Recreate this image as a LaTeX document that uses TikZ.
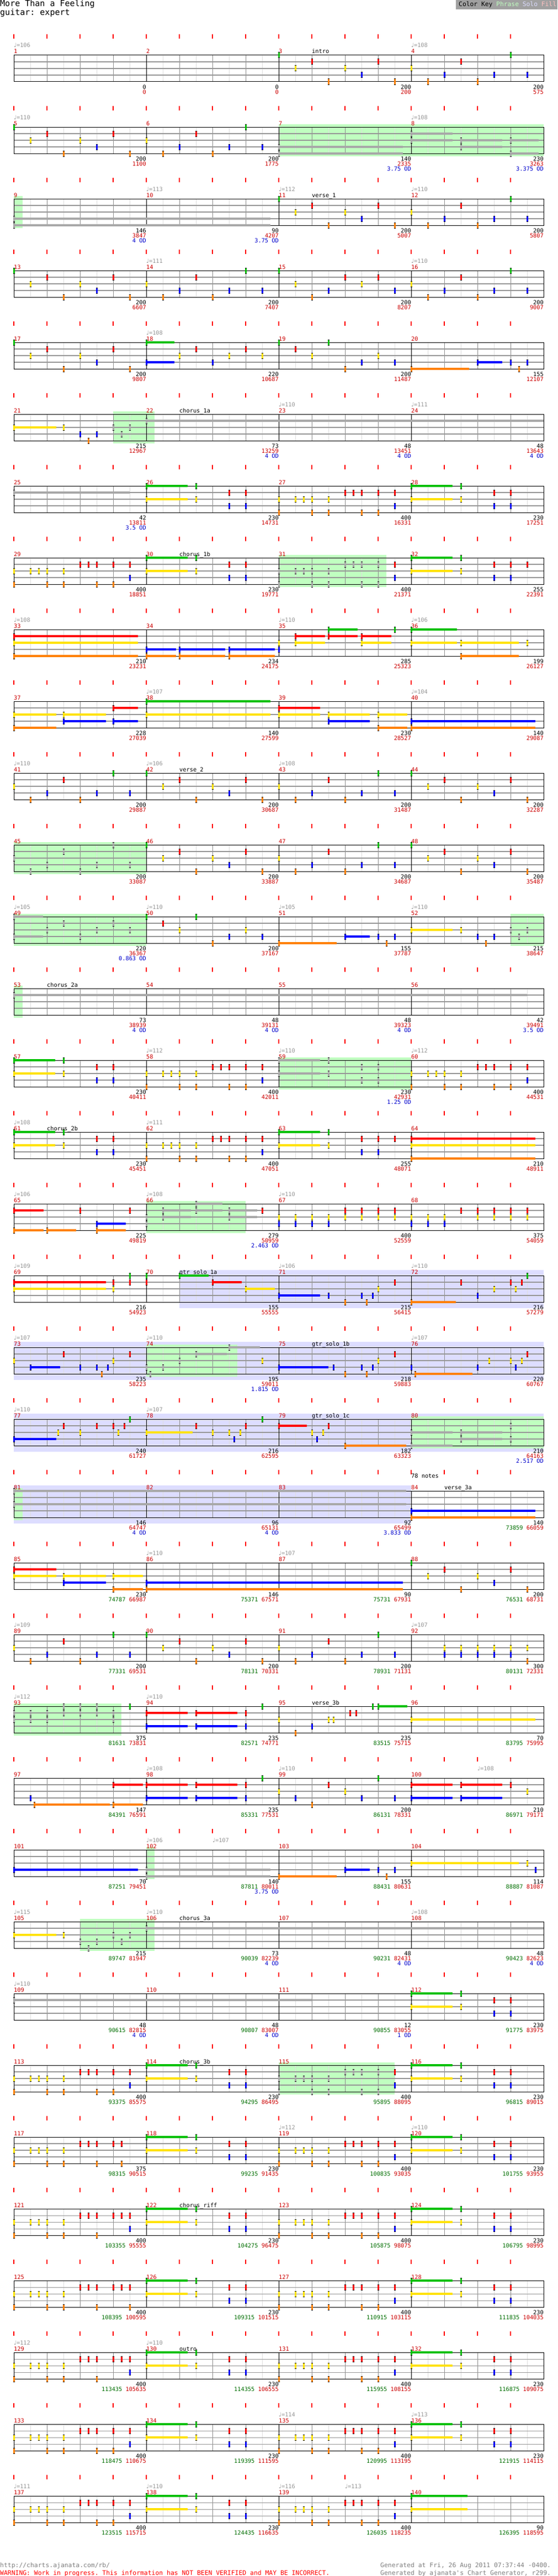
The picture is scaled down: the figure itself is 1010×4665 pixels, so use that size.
\documentclass[tikz,border=0pt]{standalone}
\usepackage{fontspec}
\setmonofont{DejaVu Sans Mono}
\newfontfamily\notefont{DejaVu Sans}

\definecolor{lane0}{RGB}{0,192,0}
\definecolor{lane1}{RGB}{255,0,0}
\definecolor{lane2}{RGB}{255,226,0}
\definecolor{lane3}{RGB}{0,0,255}
\definecolor{lane4}{RGB}{255,128,0}
\definecolor{spgray}{RGB}{168,168,168}
\definecolor{phrasebg}{RGB}{192,255,192}
\definecolor{solobg}{RGB}{221,221,255}
\definecolor{fillpink}{RGB}{255,192,192}
\definecolor{keybg}{RGB}{160,160,160}
\definecolor{barred}{RGB}{204,0,0}
\definecolor{scoregreen}{RGB}{0,110,0}
\definecolor{odblue}{RGB}{0,0,204}
\definecolor{tempogray}{RGB}{150,150,150}
\definecolor{stringgray}{RGB}{150,150,150}
\definecolor{beatgray}{RGB}{140,140,140}
\definecolor{eighthgray}{RGB}{222,222,222}

\newcommand\chartfont{\ttfamily\fontsize{10.3}{12}\selectfont}

\tikzset{
  beattick/.style={red,line width=1.5pt},
  eighthline/.style={eighthgray,line width=0.9pt},
  beatline/.style={beatgray,line width=0.9pt},
  stringline/.style={stringgray,line width=1.1pt},
  barline/.style={black,line width=1pt},
  chart/.style={font=\chartfont,inner sep=0pt},
  barnum/.style={chart,text=barred,anchor=base west},
  tempo/.style={chart,text=tempogray,anchor=base west},
  section/.style={chart,anchor=base west},
  tally/.style={chart,anchor=base east},
}

\def\riffA{0/0,1/2,2/1,3/4,4/2,5/3,6/1,7/4}
\def\riffB{0/2,1/4,2/3,3/1,4/4,5/3,6/0,7/3}
\def\riffC{0/0,1/2,2/4,3/3,4/1,5/2,6/1,7/3}
\def\riffD{3/0,3/2,5/1,5/3,6/1,6/3}
\def\riffE{0/2,0/4,1/2,1.5/2,2/2,2/4,3/2,3/4,4/1,4.5/1,5/1,5/4,6/1,6/4,7/1,7/3}
\def\riffF{0/2,0/4,1/2,1.5/2,2/2,2/4,3/2,3/4,4/1,4.5/1,5/1,5/4,6/1}

\newcommand\chartstaff[1]{%
  \foreach \k in {0,...,15} \draw[beattick] ({25+60*\k},62) -- ({25+60*\k},70);
  \foreach \k in {1,3,...,31} \draw[eighthline] ({25+30*\k},100) -- ({25+30*\k},148);
  \foreach \k in {2,4,6,10,12,14,18,20,22,26,28,30} \draw[beatline] ({25+30*\k},100) -- ({25+30*\k},148);
  \foreach \q in {1,2,3} \draw[stringline] (25,{100+12*\q}) -- (985,{100+12*\q});
  \foreach \k in {1,2,3} \draw[barline] ({25+240*\k},100) -- ({25+240*\k},148);
  \draw[barline] (25,100) rectangle (985,148);
  \foreach \k in {0,...,3} {\pgfmathtruncatemacro\barno{#1+\k}\node[barnum] at ({25+240*\k},97) {\barno};}}
\newcommand\fretnote[3][]{%
  \def\fc{#1}\ifx\fc\empty\def\fc{lane#3}\fi
  \fill[black] ({25+30*(#2)-1.5},{94.5+12*(#3)}) rectangle ++(3,11);
  \fill[fill=\fc] ({25+30*(#2)-1.5},{95.5+12*(#3)}) rectangle ++(3,9);}
\newcommand\sustain[4][]{%
  \def\fc{#1}\ifx\fc\empty\def\fc{lane#4}\fi
  \fill[fill=\fc] ({25+30*(#2)},{98.2+12*(#4)}) rectangle ({25+30*(#3)},{101.8+12*(#4)});
  \fretnote[#1]{#2}{#4}}
\newcommand\playriff[3][]{\foreach \p/\s in #3 {\fretnote[#1]{#2+\p}{\s}}}
\newcommand\fretlist[2][]{\foreach \p/\s in {#2} {\fretnote[#1]{\p}{\s}}}
\newcommand\holdriff[2][]{\sustain[#1]{#2}{#2+2.5}{0}\sustain[#1]{#2}{#2+2.5}{2}\playriff[#1]{#2}{\riffD}}
\newcommand\spphrase[2]{\fill[phrasebg] ({25+30*(#1)},95) rectangle ({25+30*(#2)},153);}
\newcommand\solozone[2]{\fill[solobg] ({25+30*(#1)},90) rectangle ({25+30*(#2)},159);}
\newcommand\tempomark[2]{\node[tempo] at ({25+30*(#1)},86) {{\notefont ♩}=#2};}
\newcommand\songpart[2]{\node[section] at ({25+30*(#1)},97) {#2};}
\newcommand\gsc[1]{\textcolor{scoregreen}{#1}}
\newcommand\measuretally[4]{%
  \node[tally] at ({265+240*(#1)},161) {#2};
  \node[tally,text=barred] at ({265+240*(#1)},170) {#3};
  \node[tally,text=odblue] at ({265+240*(#1)},179) {#4};}

\begin{document}
\begin{tikzpicture}[x=1pt,y=-1pt]
\useasboundingbox (0,0) rectangle (1010,4665);
\fill[white] (0,0) rectangle (1010,4665);
\node[anchor=base west,inner sep=0pt,font=\ttfamily\fontsize{15}{18}\selectfont] (title) at (0,12) {More Than a Feeling};
\node[anchor=base west,inner sep=0pt,font=\ttfamily\fontsize{15}{18}\selectfont] (part) at (0,28) {guitar: expert};
\fill[keybg] (826,0) rectangle (1010,17);
\node[anchor=base west,inner sep=0pt,font=\ttfamily\fontsize{11.3}{13}\selectfont] (key) at (831,12) {Color Key \textcolor{phrasebg}{Phrase} \textcolor{solobg}{Solo} \textcolor{fillpink}{Fill}};

\begin{scope}[shift={(0,0)}]
\chartstaff{1}
\tempomark{0}{106}\tempomark{24}{108}\songpart{18}{intro}
\playriff{16}{\riffA}\playriff{24}{\riffB}
\measuretally{0}{0}{0}{}\measuretally{1}{0}{0}{}\measuretally{2}{200}{200}{}\measuretally{3}{200}{575}{}
\end{scope}

\begin{scope}[shift={(0,130)}]
\spphrase{16}{32}
\chartstaff{5}
\tempomark{0}{110}\tempomark{24}{108}
\playriff{0}{\riffA}\playriff{8}{\riffB}
\foreach \s in {3,4} {\sustain[spgray]{16}{23.5}{\s}}
\foreach \s in {1,2} {\sustain[spgray]{24}{26.5}{\s}}
\foreach \s in {2,3} {\sustain[spgray]{27}{29.5}{\s}}
\foreach \s in {2,4} {\sustain[spgray]{30}{31.7}{\s}}
\measuretally{0}{200}{1100}{}\measuretally{1}{200}{1775}{}\measuretally{2}{140}{2335}{3.75 OD}\measuretally{3}{230}{3263}{3.375 OD}
\end{scope}

\begin{scope}[shift={(0,260)}]
\spphrase{0}{0.54}
\chartstaff{9}
\tempomark{8}{113}\tempomark{16}{112}\tempomark{24}{110}\songpart{18}{verse\_1}
\foreach \s in {3,4} {\sustain[spgray]{0}{15.5}{\s}}
\playriff{16}{\riffA}\playriff{24}{\riffB}
\measuretally{0}{146}{3847}{4 OD}\measuretally{1}{90}{4207}{3.75 OD}\measuretally{2}{200}{5007}{}\measuretally{3}{200}{5807}{}
\end{scope}

\begin{scope}[shift={(0,390)}]
\chartstaff{13}
\tempomark{8}{111}\tempomark{24}{110}
\playriff{0}{\riffA}\playriff{8}{\riffB}\playriff{16}{\riffC}\playriff{24}{\riffB}
\measuretally{0}{200}{6607}{}\measuretally{1}{200}{7407}{}\measuretally{2}{200}{8207}{}\measuretally{3}{200}{9007}{}
\end{scope}

\begin{scope}[shift={(0,520)}]
\chartstaff{17}
\tempomark{8}{108}
\playriff{0}{\riffA}
\foreach \s in {0,3} {\sustain{8}{9.7}{\s}}
\fretlist{10/2,11/1,12/3,13/2,14/1,15/2,16/0,17/1,18/2,19/0,20/4,21/3,22/2,23/3,30/3,30.5/4,31/3}
\sustain{24}{27.5}{4}\sustain{28}{29.5}{3}
\measuretally{0}{200}{9807}{}\measuretally{1}{220}{10687}{}\measuretally{2}{200}{11487}{}\measuretally{3}{155}{12107}{}
\end{scope}

\begin{scope}[shift={(0,650)}]
\spphrase{6}{8.5}
\chartstaff{21}
\tempomark{16}{110}\tempomark{24}{111}\songpart{10}{chorus\_1a}
\sustain{0}{2.55}{2}
\fretlist{3/2,4/3,4.5/4,5/3}
\fretlist[spgray]{6/2,6.5/3,7/2}
\sustain[spgray]{8}{32}{1}
\measuretally{0}{215}{12967}{}\measuretally{1}{73}{13259}{4 OD}\measuretally{2}{48}{13451}{4 OD}\measuretally{3}{48}{13643}{4 OD}
\end{scope}

\begin{scope}[shift={(0,780)}]
\chartstaff{25}
\sustain[spgray]{0}{7}{1}
\holdriff{8}\playriff{16}{\riffE}\holdriff{24}
\measuretally{0}{42}{13811}{3.5 OD}\measuretally{1}{230}{14731}{}\measuretally{2}{400}{16331}{}\measuretally{3}{230}{17251}{}
\end{scope}

\begin{scope}[shift={(0,910)}]
\spphrase{16}{22.5}
\chartstaff{29}
\songpart{10}{chorus\_1b}
\playriff{0}{\riffE}\holdriff{8}\playriff[spgray]{16}{\riffE}\fretlist{23/1,23/3}\holdriff{24}\fretlist{31/1}
\measuretally{0}{400}{18851}{}\measuretally{1}{230}{19771}{}\measuretally{2}{400}{21371}{}\measuretally{3}{255}{22391}{}
\end{scope}

\begin{scope}[shift={(0,1040)}]
\chartstaff{33}
\tempomark{0}{108}\tempomark{16}{110}\tempomark{24}{106}
\foreach \s in {1,2,4} {\sustain{0}{7.5}{\s}}
\foreach \s in {3,4} {\sustain{8}{9.8}{\s}\sustain{10}{12.75}{\s}\sustain{13}{15.75}{\s}}
\fretlist{16/2,16/3,23/0,31/2}
\foreach \s in {1,2} {\sustain{17}{18.8}{\s}\sustain{21}{22.8}{\s}}
\foreach \s in {0,1} {\sustain{19}{20.75}{\s}}
\foreach \s in {0,2} {\sustain{24}{26.75}{\s}}
\foreach \s in {2,4} {\sustain{27}{30.5}{\s}}
\measuretally{0}{210}{23231}{}\measuretally{1}{234}{24175}{}\measuretally{2}{285}{25323}{}\measuretally{3}{199}{26127}{}
\end{scope}

\begin{scope}[shift={(0,1170)}]
\chartstaff{37}
\tempomark{8}{107}\tempomark{24}{104}
\foreach \s in {2,4} {\sustain{0}{2.55}{\s}\sustain{22}{23.75}{\s}}
\foreach \s in {2,3} {\sustain{3}{5.55}{\s}\sustain{19}{21.5}{\s}}
\foreach \s in {1,3} {\sustain{6}{7.5}{\s}}
\foreach \s in {0,2} {\sustain{8}{15.5}{\s}}
\foreach \s in {1,2} {\sustain{16}{18.5}{\s}}
\foreach \s in {3,4} {\sustain{24}{31.5}{\s}}
\measuretally{0}{228}{27039}{}\measuretally{1}{140}{27599}{}\measuretally{2}{230}{28527}{}\measuretally{3}{140}{29087}{}
\end{scope}

\begin{scope}[shift={(0,1300)}]
\chartstaff{41}
\tempomark{0}{110}\tempomark{8}{106}\tempomark{16}{108}\songpart{10}{verse\_2}
\playriff{0}{\riffB}\playriff{8}{\riffA}\playriff{16}{\riffB}\playriff{24}{\riffA}
\measuretally{0}{200}{29887}{}\measuretally{1}{200}{30687}{}\measuretally{2}{200}{31487}{}\measuretally{3}{200}{32287}{}
\end{scope}

\begin{scope}[shift={(0,1430)}]
\spphrase{0}{8}
\chartstaff{45}
\playriff[spgray]{0}{\riffB}\playriff{8}{\riffA}\playriff{16}{\riffB}\playriff{24}{\riffA}
\measuretally{0}{200}{33087}{}\measuretally{1}{200}{33887}{}\measuretally{2}{200}{34687}{}\measuretally{3}{200}{35487}{}
\end{scope}

\begin{scope}[shift={(0,1560)}]
\spphrase{0}{8}\spphrase{30}{32}
\chartstaff{49}
\tempomark{0}{105}\tempomark{8}{110}\tempomark{16}{105}\tempomark{24}{110}
\foreach \s in {0,3} {\sustain[spgray]{0}{1.75}{\s}}
\fretlist[spgray]{2/2,3/1,4/3,5/2,6/1,7/2}
\fretlist{8/0,9/1,10/2,11/0,12/4,13/3,14/2,15/3}
\sustain{16}{19.5}{4}\sustain{20}{21.5}{3}\fretlist{22/3,22.5/4,23/3}
\sustain{24}{26.5}{2}\fretlist{27/2,28/3,28.5/4,29/3}
\fretlist[spgray]{30/2,30.5/3,31/2}
\measuretally{0}{220}{36367}{0.863 OD}\measuretally{1}{200}{37167}{}\measuretally{2}{155}{37787}{}\measuretally{3}{215}{38647}{}
\end{scope}

\begin{scope}[shift={(0,1690)}]
\spphrase{0}{0.54}
\chartstaff{53}
\songpart{2}{chorus\_2a}
\sustain[spgray]{0}{31}{1}
\measuretally{0}{73}{38939}{4 OD}\measuretally{1}{48}{39131}{4 OD}\measuretally{2}{48}{39323}{4 OD}\measuretally{3}{42}{39491}{3.5 OD}
\end{scope}

\begin{scope}[shift={(0,1820)}]
\spphrase{16}{24}
\chartstaff{57}
\tempomark{8}{112}\tempomark{16}{110}\tempomark{24}{112}
\holdriff{0}\playriff{8}{\riffE}\holdriff[spgray]{16}\playriff{24}{\riffE}
\measuretally{0}{230}{40411}{}\measuretally{1}{400}{42011}{}\measuretally{2}{230}{42931}{1.25 OD}\measuretally{3}{400}{44531}{}
\end{scope}

\begin{scope}[shift={(0,1950)}]
\chartstaff{61}
\tempomark{0}{108}\tempomark{8}{111}\songpart{2}{chorus\_2b}
\holdriff{0}\playriff{8}{\riffE}\holdriff{16}\fretlist{23/1}
\foreach \s in {1,2,4} {\sustain{24}{31.5}{\s}}
\measuretally{0}{230}{45451}{}\measuretally{1}{400}{47051}{}\measuretally{2}{255}{48071}{}\measuretally{3}{210}{48911}{}
\end{scope}

\begin{scope}[shift={(0,2080)}]
\spphrase{8}{14}
\chartstaff{65}
\tempomark{0}{106}\tempomark{8}{108}\tempomark{16}{110}
\foreach \s in {1,4} {\sustain{0}{1.8}{\s}}
\sustain{2}{3.75}{4}
\foreach \s in {3,4} {\sustain{5}{6.75}{\s}}
\fretlist{4/1,7/1}
\fretlist[spgray]{8/2,8/3}
\foreach \s in {1,2} {\sustain[spgray]{9}{10.7}{\s}\sustain[spgray]{13}{14.7}{\s}}
\foreach \s in {0,1} {\sustain[spgray]{11}{12.6}{\s}}
\fretlist{15/1,16/2,16/3,17/2,17/3,18/2,18/3,19/2,19/3,20/1,20/2,21/1,21/2,22/1,22/2,23/1,23/2,24/2,24/3,25/2,25/3,26/2,26/3,27/1,28/1,28/2,29/1,29/2,30/1,30/2,31/1,31/2}
\measuretally{0}{225}{49819}{}\measuretally{1}{279}{50959}{2.463 OD}\measuretally{2}{400}{52559}{}\measuretally{3}{375}{54059}{}
\end{scope}

\begin{scope}[shift={(0,2210)}]
\solozone{10}{32}
\chartstaff{69}
\tempomark{0}{109}\tempomark{16}{106}\tempomark{24}{110}\songpart{10}{gtr\_solo\_1a}
\foreach \s in {1,2} {\sustain{0}{5.55}{\s}}
\fretlist{6/1,6/2,7/0,7/1,8/0,8/1}
\sustain{10}{11.75}{0}\sustain{12}{13.75}{1}\sustain{14}{15.75}{2}\sustain{16}{18.5}{3}
\fretlist{19/3,20/4,21/3,21.33/4,21.67/3,22/2,23/1}
\sustain{24}{26.7}{4}
\fretlist{27/1,28/3,29/2,30/1,30.33/2,30.67/1,31/0}
\measuretally{0}{216}{54923}{}\measuretally{1}{155}{55555}{}\measuretally{2}{215}{56415}{}\measuretally{3}{216}{57279}{}
\end{scope}

\begin{scope}[shift={(0,2340)}]
\solozone{0}{32}\spphrase{8}{13.5}
\chartstaff{73}
\tempomark{0}{107}\tempomark{8}{110}\tempomark{24}{107}\songpart{18}{gtr\_solo\_1b}
\fretlist{0/2,3/1,4/3,5/3,5.33/4,5.67/3,6/2,7/1}
\sustain{1}{2.8}{3}
\fretlist[spgray]{8/3,8.25/4,9/3,10/2}
\sustain[spgray]{11}{12.85}{1}\sustain[spgray]{13}{14.85}{0}
\fretlist{15/2}
\sustain{16}{19}{3}
\fretlist{19.33/3,20/4,21/3,21.33/4,21.67/3,22/2,23/1,24/3}
\sustain{24.25}{27.7}{4}
\fretlist{28/3,28.7/2,30/2,30.33/3,30.67/2,31/1}
\measuretally{0}{235}{58223}{}\measuretally{1}{195}{59011}{1.815 OD}\measuretally{2}{218}{59883}{}\measuretally{3}{220}{60767}{}
\end{scope}

\begin{scope}[shift={(0,2470)}]
\solozone{0}{32}\spphrase{24}{32}
\chartstaff{77}
\tempomark{0}{110}\tempomark{8}{107}\songpart{18}{gtr\_solo\_1c}
\sustain{0}{2.55}{3}
\fretlist{2.67/2,3/1,4/2,5/1,6/1,6.33/2,6.67/1,7/0}
\sustain{8}{10.8}{2}
\fretlist{11/1,12/2,13/2,13.33/3,13.67/2,14/1,15/0}
\sustain{16}{17.7}{1}
\fretlist{18/2,18.33/3,18.67/2,19/1}
\sustain{20}{23.7}{4}
\foreach \s in {2,4} {\sustain[spgray]{24}{26.5}{\s}}
\foreach \s in {2,3} {\sustain[spgray]{27}{29.5}{\s}}
\fretlist[spgray]{30/1,30/3}
\measuretally{0}{240}{61727}{}\measuretally{1}{216}{62595}{}\measuretally{2}{182}{63323}{}\measuretally{3}{210}{64163}{2.517 OD}
\end{scope}

\begin{scope}[shift={(0,2600)}]
\solozone{0}{24}\spphrase{0}{0.54}
\chartstaff{81}
\songpart{26}{verse\_3a}
\node[section] (notecount) at (745,76) {78 notes};
\foreach \s in {0,2} {\sustain[spgray]{0}{23.7}{\s}}
\foreach \s in {3,4} {\sustain{24}{31.5}{\s}}
\measuretally{0}{146}{64747}{4 OD}\measuretally{1}{96}{65131}{4 OD}\measuretally{2}{92}{65499}{3.833 OD}\measuretally{3}{140}{\gsc{73859} 66059}{}
\end{scope}

\begin{scope}[shift={(0,2730)}]
\chartstaff{85}
\tempomark{8}{110}\tempomark{16}{107}
\foreach \s in {1,2} {\sustain{0}{2.55}{\s}}
\foreach \s in {2,3} {\sustain{3}{5.55}{\s}}
\foreach \s in {2,4} {\sustain{6}{7.8}{\s}}
\foreach \s in {3,4} {\sustain{8}{23.5}{\s}}
\playriff{24}{\riffA}
\measuretally{0}{230}{\gsc{74787} 66987}{}\measuretally{1}{146}{\gsc{75371} 67571}{}\measuretally{2}{90}{\gsc{75731} 67931}{}\measuretally{3}{200}{\gsc{76531} 68731}{}
\end{scope}

\begin{scope}[shift={(0,2860)}]
\chartstaff{89}
\tempomark{0}{109}\tempomark{24}{107}
\playriff{0}{\riffB}\playriff{8}{\riffA}\playriff{16}{\riffB}
\fretlist{26/2,26/3,27/2,27/3,28/2,28/3,29/2,29/3,30/2,30/3,31/2,31/4}
\measuretally{0}{200}{\gsc{77331} 69531}{}\measuretally{1}{200}{\gsc{78131} 70331}{}\measuretally{2}{200}{\gsc{78931} 71131}{}\measuretally{3}{300}{\gsc{80131} 72331}{}
\end{scope}

\begin{scope}[shift={(0,2990)}]
\spphrase{0}{6.5}
\chartstaff{93}
\tempomark{0}{112}\tempomark{8}{110}\songpart{18}{verse\_3b}
\fretlist[spgray]{0/1,0/2,1/1,1/2,2/1,2/2,3/0,3/1,4/0,4/1,5/0,5/1,6/1,6/2}
\fretlist{7/0,14/1,14/3,15/0,16/2,17/4,18/3,19/2,19.33/2,20.33/1,20.67/1,21.67/0}
\foreach \s in {1,3} {\sustain{8}{10.5}{\s}\sustain{11}{13.5}{\s}}
\sustain{22}{23.75}{0}\sustain{24}{31.5}{2}
\measuretally{0}{375}{\gsc{81631} 73831}{}\measuretally{1}{235}{\gsc{82571} 74771}{}\measuretally{2}{235}{\gsc{83515} 75715}{}\measuretally{3}{70}{\gsc{83795} 75995}{}
\end{scope}

\begin{scope}[shift={(0,3120)}]
\chartstaff{97}
\tempomark{8}{108}\tempomark{16}{110}\tempomark{28}{108}
\sustain{1.25}{5.8}{4}
\foreach \s in {1,4} {\sustain{6}{7.8}{\s}}
\foreach \s in {1,3} {\sustain{8}{10.5}{\s}\sustain{11}{13.5}{\s}\sustain{24}{26.5}{\s}\sustain{27}{29.5}{\s}}
\fretlist{1/3,14/1,14/3,15/0,16/2,17/3,18/4,19/1,20/2,21/3,22/0,23/3,30/1,31/2}
\measuretally{0}{147}{\gsc{84391} 76591}{}\measuretally{1}{235}{\gsc{85331} 77531}{}\measuretally{2}{200}{\gsc{86131} 78331}{}\measuretally{3}{210}{\gsc{86971} 79171}{}
\end{scope}

\begin{scope}[shift={(0,3250)}]
\spphrase{8}{8.5}
\chartstaff{101}
\tempomark{8}{106}\tempomark{12}{107}
\sustain{0}{7.5}{3}
\foreach \s in {3,4} {\sustain[spgray]{8}{15.5}{\s}}
\sustain{16}{19.5}{4}\sustain{20}{21.5}{3}
\fretlist{22/3,22.5/4,23/3}
\sustain{24}{30.5}{2}
\fretlist{31/2,31.5/3}
\measuretally{0}{70}{\gsc{87251} 79451}{}\measuretally{1}{140}{\gsc{87811} 80011}{3.75 OD}\measuretally{2}{155}{\gsc{88431} 80631}{}\measuretally{3}{114}{\gsc{88887} 81087}{}
\end{scope}

\begin{scope}[shift={(0,3380)}]
\spphrase{4}{8.5}
\chartstaff{105}
\tempomark{0}{115}\tempomark{8}{110}\tempomark{24}{108}\songpart{10}{chorus\_3a}
\sustain{0}{2.55}{2}\fretlist{3/2}
\fretlist[spgray]{4/3,4.5/4,5/3,6/2,6.5/3,7/2}
\sustain[spgray]{8}{32}{1}
\measuretally{0}{215}{\gsc{89747} 81947}{}\measuretally{1}{73}{\gsc{90039} 82239}{4 OD}\measuretally{2}{48}{\gsc{90231} 82431}{4 OD}\measuretally{3}{48}{\gsc{90423} 82623}{4 OD}
\end{scope}

\begin{scope}[shift={(0,3510)}]
\chartstaff{109}
\tempomark{0}{110}
\sustain[spgray]{0}{18}{1}
\holdriff{24}
\measuretally{0}{48}{\gsc{90615} 82815}{4 OD}\measuretally{1}{48}{\gsc{90807} 83007}{4 OD}\measuretally{2}{12}{\gsc{90855} 83055}{1 OD}\measuretally{3}{230}{\gsc{91775} 83975}{}
\end{scope}

\begin{scope}[shift={(0,3640)}]
\spphrase{16}{23}
\chartstaff{113}
\songpart{10}{chorus\_3b}
\playriff{0}{\riffE}\holdriff{8}\playriff[spgray]{16}{\riffE}\fretlist{23/1,23/3}\holdriff{24}
\measuretally{0}{400}{\gsc{93375} 85575}{}\measuretally{1}{230}{\gsc{94295} 86495}{}\measuretally{2}{400}{\gsc{95895} 88095}{}\measuretally{3}{230}{\gsc{96815} 89015}{}
\end{scope}

\begin{scope}[shift={(0,3770)}]
\chartstaff{117}
\tempomark{16}{112}\tempomark{24}{110}
\playriff{0}{\riffF}\fretlist{6.5/1,6.5/4}
\holdriff{8}\playriff{16}{\riffE}\holdriff{24}
\measuretally{0}{375}{\gsc{98315} 90515}{}\measuretally{1}{230}{\gsc{99235} 91435}{}\measuretally{2}{400}{\gsc{100835} 93035}{}\measuretally{3}{230}{\gsc{101755} 93955}{}
\end{scope}

\begin{scope}[shift={(0,3900)}]
\chartstaff{121}
\songpart{10}{chorus\_riff}
\playriff{0}{\riffF}\fretlist{6.5/1,7/1,7/3}
\holdriff{8}\playriff{16}{\riffE}\holdriff{24}
\measuretally{0}{400}{\gsc{103355} 95555}{}\measuretally{1}{230}{\gsc{104275} 96475}{}\measuretally{2}{400}{\gsc{105875} 98075}{}\measuretally{3}{230}{\gsc{106795} 98995}{}
\end{scope}

\begin{scope}[shift={(0,4030)}]
\chartstaff{125}
\playriff{0}{\riffF}\fretlist{6.5/1,7/1,7/4}
\holdriff{8}\playriff{16}{\riffE}\holdriff{24}
\measuretally{0}{400}{\gsc{108395} 100595}{}\measuretally{1}{230}{\gsc{109315} 101515}{}\measuretally{2}{400}{\gsc{110915} 103115}{}\measuretally{3}{230}{\gsc{111835} 104035}{}
\end{scope}

\begin{scope}[shift={(0,4160)}]
\chartstaff{129}
\tempomark{0}{112}\tempomark{8}{110}\songpart{10}{outro}
\playriff{0}{\riffF}\fretlist{6.5/1,7/1,7/3}
\holdriff{8}\playriff{16}{\riffE}\holdriff{24}
\measuretally{0}{400}{\gsc{113435} 105635}{}\measuretally{1}{230}{\gsc{114355} 106555}{}\measuretally{2}{400}{\gsc{115955} 108155}{}\measuretally{3}{230}{\gsc{116875} 109075}{}
\end{scope}

\begin{scope}[shift={(0,4290)}]
\chartstaff{133}
\tempomark{16}{114}\tempomark{24}{113}
\playriff{0}{\riffE}\holdriff{8}\playriff{16}{\riffE}\holdriff{24}
\measuretally{0}{400}{\gsc{118475} 110675}{}\measuretally{1}{230}{\gsc{119395} 111595}{}\measuretally{2}{400}{\gsc{120995} 113195}{}\measuretally{3}{230}{\gsc{121915} 114115}{}
\end{scope}

\begin{scope}[shift={(0,4420)}]
\chartstaff{137}
\tempomark{0}{111}\tempomark{8}{110}\tempomark{16}{116}\tempomark{20}{113}
\playriff{0}{\riffE}\holdriff{8}\playriff{16}{\riffE}
\foreach \s in {0,2} {\sustain{24}{27.4}{\s}}
\measuretally{0}{400}{\gsc{123515} 115715}{}\measuretally{1}{230}{\gsc{124435} 116635}{}\measuretally{2}{400}{\gsc{126035} 118235}{}\measuretally{3}{90}{\gsc{126395} 118595}{}
\end{scope}

\node[anchor=base west,inner sep=0pt,font=\ttfamily\fontsize{11.4}{13}\selectfont,text=gray] (url) at (0,4649) {http://charts.ajanata.com/rb/};
\node[anchor=base west,inner sep=0pt,font=\ttfamily\fontsize{11.4}{13}\selectfont,text=red] (warning) at (0,4663) {WARNING: Work in progress. This information has NOT BEEN VERIFIED and MAY BE INCORRECT.};
\node[anchor=base west,inner sep=0pt,font=\ttfamily\fontsize{11.4}{13}\selectfont,text=gray] (stamp) at (689,4649) {Generated at Fri, 26 Aug 2011 07:37:44 -0400.};
\node[anchor=base west,inner sep=0pt,font=\ttfamily\fontsize{11.4}{13}\selectfont,text=gray] (generator) at (689,4663) {Generated by ajanata's Chart Generator, r299.};
\end{tikzpicture}
\end{document}
